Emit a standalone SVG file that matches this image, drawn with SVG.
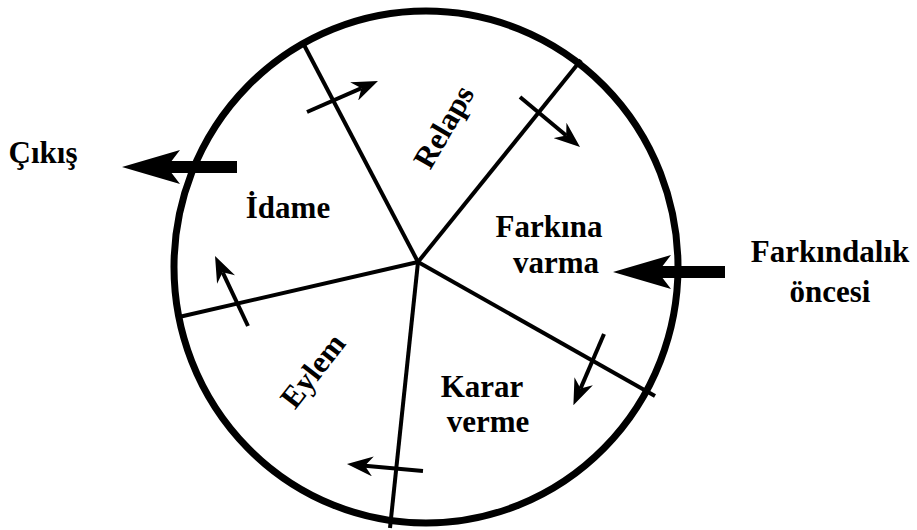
<svg xmlns="http://www.w3.org/2000/svg" width="917" height="530" viewBox="0 0 917 530">
<style>
text{font-family:'Liberation Serif','Times New Roman','DejaVu Serif',serif;font-weight:700;font-size:31px;fill:#000}
.spoke{stroke:#000;stroke-width:4;fill:none}
.small{stroke:#000;stroke-width:4;fill:none;marker-end:url(#sh)}
.big{stroke:#000;stroke-width:12;fill:none;marker-end:url(#bh)}
</style>
<defs>
<marker id="sh" markerUnits="userSpaceOnUse" viewBox="0 0 26 20" markerWidth="26" markerHeight="20" refX="8" refY="10" orient="auto">
<path d="M0,0 L26,10 L0,20 L8,10 Z" fill="#000"/>
</marker>
<marker id="bh" markerUnits="userSpaceOnUse" viewBox="0 0 58 34" markerWidth="58" markerHeight="34" refX="13" refY="17" orient="auto">
<path d="M0,0 L58,17 L0,34 L13,17 Z" fill="#000"/>
</marker>
</defs>
<g id="wheel">
<ellipse cx="426" cy="267" rx="252" ry="256" fill="none" stroke="#000" stroke-width="7"/>
</g>
<g id="connectors">
<line class="spoke" x1="418" y1="262" x2="303" y2="43"/>
<line class="spoke" x1="418" y1="262" x2="581" y2="60"/>
<line class="spoke" x1="418" y1="262" x2="179" y2="317"/>
<line class="spoke" x1="418" y1="262" x2="390" y2="528"/>
<line class="spoke" x1="418" y1="262" x2="655" y2="396"/>
<line class="small" x1="307" y1="112" x2="361.5" y2="88.2"/>
<line class="small" x1="520" y1="97" x2="566.2" y2="135.5"/>
<line class="small" x1="604" y1="334" x2="580.5" y2="388.6"/>
<line class="small" x1="423" y1="471" x2="364.9" y2="465.7"/>
<line class="small" x1="248" y1="326" x2="222.7" y2="272.3"/>
<line class="big" x1="237" y1="167" x2="167" y2="167"/>
<line class="big" x1="725" y1="272" x2="658" y2="272"/>
</g>
<g id="relaps"><text transform="translate(444,127) rotate(-60)" text-anchor="middle" dy="10">Relaps</text></g>
<g id="farkina"><text x="549" y="237" text-anchor="middle">Farkına</text><text x="556" y="273" text-anchor="middle">varma</text></g>
<g id="karar"><text x="482" y="397" text-anchor="middle">Karar</text><text x="488" y="432" text-anchor="middle">verme</text></g>
<g id="eylem"><text transform="translate(313,371) rotate(-52)" text-anchor="middle" dy="10">Eylem</text></g>
<g id="idame"><text x="288" y="218" text-anchor="middle">İdame</text></g>
<g id="cikis"><text x="43" y="163" text-anchor="middle">Çıkış</text></g>
<g id="oncesi"><text x="830" y="262" text-anchor="middle">Farkındalık</text><text x="830" y="302" text-anchor="middle">öncesi</text></g>
</svg>
